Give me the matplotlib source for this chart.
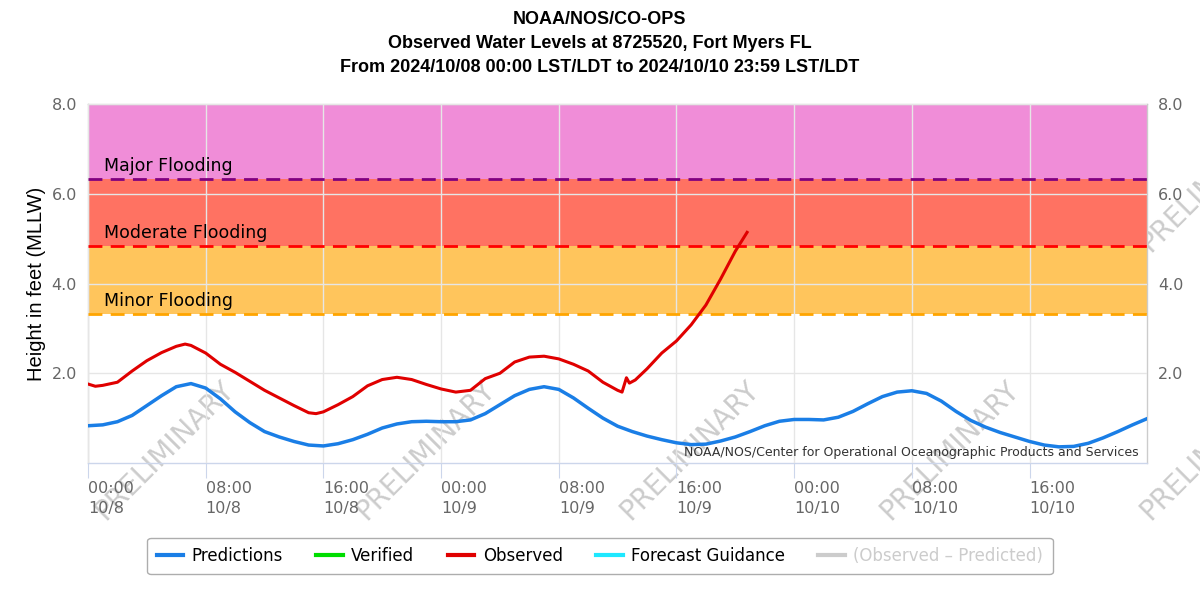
import numpy as np
import pandas as pd
from matplotlib import pyplot as plt
from matplotlib.lines import Line2D
import matplotlib.transforms as mtransforms

# predicted tide (hours since 2024-10-08 00:00, feet MLLW)
pred_hours = list(range(0, 73))
pred_ft = [0.83, 0.85, 0.92, 1.06, 1.28, 1.50, 1.70, 1.77, 1.67, 1.43,
           1.14, 0.90, 0.70, 0.58, 0.48, 0.40, 0.38, 0.43, 0.52, 0.64,
           0.78, 0.87, 0.92, 0.93, 0.92, 0.92, 0.96, 1.10, 1.30, 1.50,
           1.64, 1.70, 1.64, 1.45, 1.22, 1.00, 0.82, 0.70, 0.60, 0.52,
           0.45, 0.41, 0.42, 0.49, 0.58, 0.70, 0.83, 0.93, 0.97, 0.97,
           0.96, 1.02, 1.15, 1.32, 1.48, 1.58, 1.61, 1.55, 1.38, 1.15,
           0.95, 0.80, 0.68, 0.58, 0.48, 0.40, 0.36, 0.37, 0.44, 0.56,
           0.70, 0.85, 0.99]

# observed water level
obs_hours = [0, 0.5, 1, 2, 3, 4, 5, 6, 6.6, 7, 8, 9, 10, 11, 12, 13, 14, 15,
             15.5, 16, 17, 18, 19, 20, 21, 22, 23, 24, 25, 26, 27, 28, 29,
             30, 31, 32, 33, 34, 35, 36, 36.3, 36.6, 36.8, 37.2, 38, 39, 40,
             41, 42, 43, 44, 44.8]
obs_ft = [1.76, 1.71, 1.73, 1.80, 2.05, 2.28, 2.46, 2.60, 2.65, 2.62, 2.45,
          2.20, 2.02, 1.82, 1.62, 1.45, 1.28, 1.12, 1.10, 1.14, 1.30, 1.48,
          1.72, 1.86, 1.91, 1.86, 1.75, 1.65, 1.58, 1.62, 1.88, 2.00, 2.25,
          2.36, 2.38, 2.32, 2.20, 2.05, 1.80, 1.62, 1.58, 1.90, 1.78, 1.85,
          2.10, 2.45, 2.72, 3.08, 3.52, 4.10, 4.72, 5.14]

flood_names = ['Minor Flooding', 'Moderate Flooding', 'Major Flooding']
flood_levels = [3.31, 4.83, 6.33]
band_colors = ['#FFC55C', '#FF7262', '#F08DD8']
line_colors = ['#FFA500', '#FF0000', '#800080']

tick_hours = [0, 8, 16, 24, 32, 40, 48, 56, 64]
tick_labels = ['00:00\n10/8', '08:00\n10/8', '16:00\n10/8',
               '00:00\n10/9', '08:00\n10/9', '16:00\n10/9',
               '00:00\n10/10', '08:00\n10/10', '16:00\n10/10']

title_lines = ['NOAA/NOS/CO-OPS',
               'Observed Water Levels at 8725520, Fort Myers FL',
               'From 2024/10/08 00:00 LST/LDT to 2024/10/10 23:59 LST/LDT']

legend_names = ['Predictions', 'Verified', 'Observed', 'Forecast Guidance',
                '(Observed \u2013 Predicted)']
legend_colors = ['#1a7ee6', '#00dd00', '#e00000', '#1ee8ff', '#cccccc']

start = pd.Timestamp('2024-10-08 00:00')
pred_t = start + pd.to_timedelta(pred_hours, unit='h')
obs_t = start + pd.to_timedelta(obs_hours, unit='h')
tick_t = start + pd.to_timedelta(tick_hours, unit='h')

fig = plt.figure(figsize=(12, 6), dpi=100)
fig.patch.set_facecolor('white')
ax = fig.add_axes([88/1200, 1-463/600, 1059/1200, 359/600])
ax.patch.set_facecolor('none')

# watermark behind the plot
for cy in [450, 182]:
    for cx in [165, 426, 690, 950, 1210]:
        fig.text(cx/1200, 1-cy/600, 'PRELIMINARY', rotation=45, fontsize=20,
                 color='#cccccc', ha='center', va='center',
                 rotation_mode='anchor', zorder=-1)

# flood bands
edges = flood_levels + [8.0]
trans = mtransforms.blended_transform_factory(ax.transAxes, ax.transData)
for i in range(len(flood_levels)):
    ax.axhspan(edges[i], edges[i+1], color=band_colors[i], lw=0, zorder=1)
    ax.axhline(flood_levels[i], color=line_colors[i], lw=2, dashes=(5, 3), zorder=3)
    ax.text(0.015, flood_levels[i] + 0.09, flood_names[i], transform=trans,
            fontsize=12.5, color='black', va='bottom', ha='left', zorder=3)

ax.plot(pred_t, pred_ft, color=legend_colors[0], lw=2.5, zorder=4)
ax.plot(obs_t, obs_ft, color=legend_colors[2], lw=2.2, zorder=5)

ax.set_xlim(start, start + pd.Timedelta(hours=71, minutes=59))
ax.set_ylim(0, 8)
ax.set_yticks([2, 4, 6, 8])
ax.set_yticklabels(['2.0', '4.0', '6.0', '8.0'])
ax.set_xticks(tick_t)
ax.set_xticklabels(tick_labels, ha='left', linespacing=1.45)
offset = mtransforms.ScaledTranslation(5/100, 0, fig.dpi_scale_trans)
for lbl in ax.get_xticklabels():
    lbl.set_transform(lbl.get_transform() + offset)

ax.grid(True, color='#e6e6e6', lw=1)
ax.set_axisbelow(False)
ax.tick_params(axis='x', length=11, color='#ccd6eb', pad=2,
               labelcolor='#666666', labelsize=11.5)
ax.tick_params(axis='y', length=0, pad=8, labelcolor='#666666',
               labelsize=11.5, labelright=True)
for s in ax.spines.values():
    s.set_color('#cccccc')
    s.set_linewidth(1)
ax.spines['bottom'].set_color('#ccd6eb')

ax.set_ylabel('Height in feet (MLLW)', fontsize=14.5, family='Liberation Sans',
              labelpad=4)

ax.text(0.9925, 0.012, 'NOAA/NOS/Center for Operational Oceanographic Products and Services',
        transform=ax.transAxes, fontsize=9, color='#333333', ha='right',
        va='bottom', zorder=6)

for t, y in zip(title_lines, [20, 44, 67]):
    fig.text(0.5, 1-y/600, t, ha='center', va='center', fontsize=13,
             fontweight='bold', family='Liberation Sans')

handles = [Line2D([0], [0], color=c, lw=3) for c in legend_colors]
leg = fig.legend(handles, legend_names, loc='center', ncol=5,
                 bbox_to_anchor=(0.5, 1-556/600), fontsize=12,
                 frameon=True, fancybox=True, edgecolor='#999999',
                 handlelength=1.6, handletextpad=0.5, columnspacing=2.0,
                 borderpad=0.55)
leg.get_frame().set_linewidth(1)
leg.get_texts()[4].set_color('#cccccc')

fig.savefig('out.png', dpi=100, facecolor='white')
